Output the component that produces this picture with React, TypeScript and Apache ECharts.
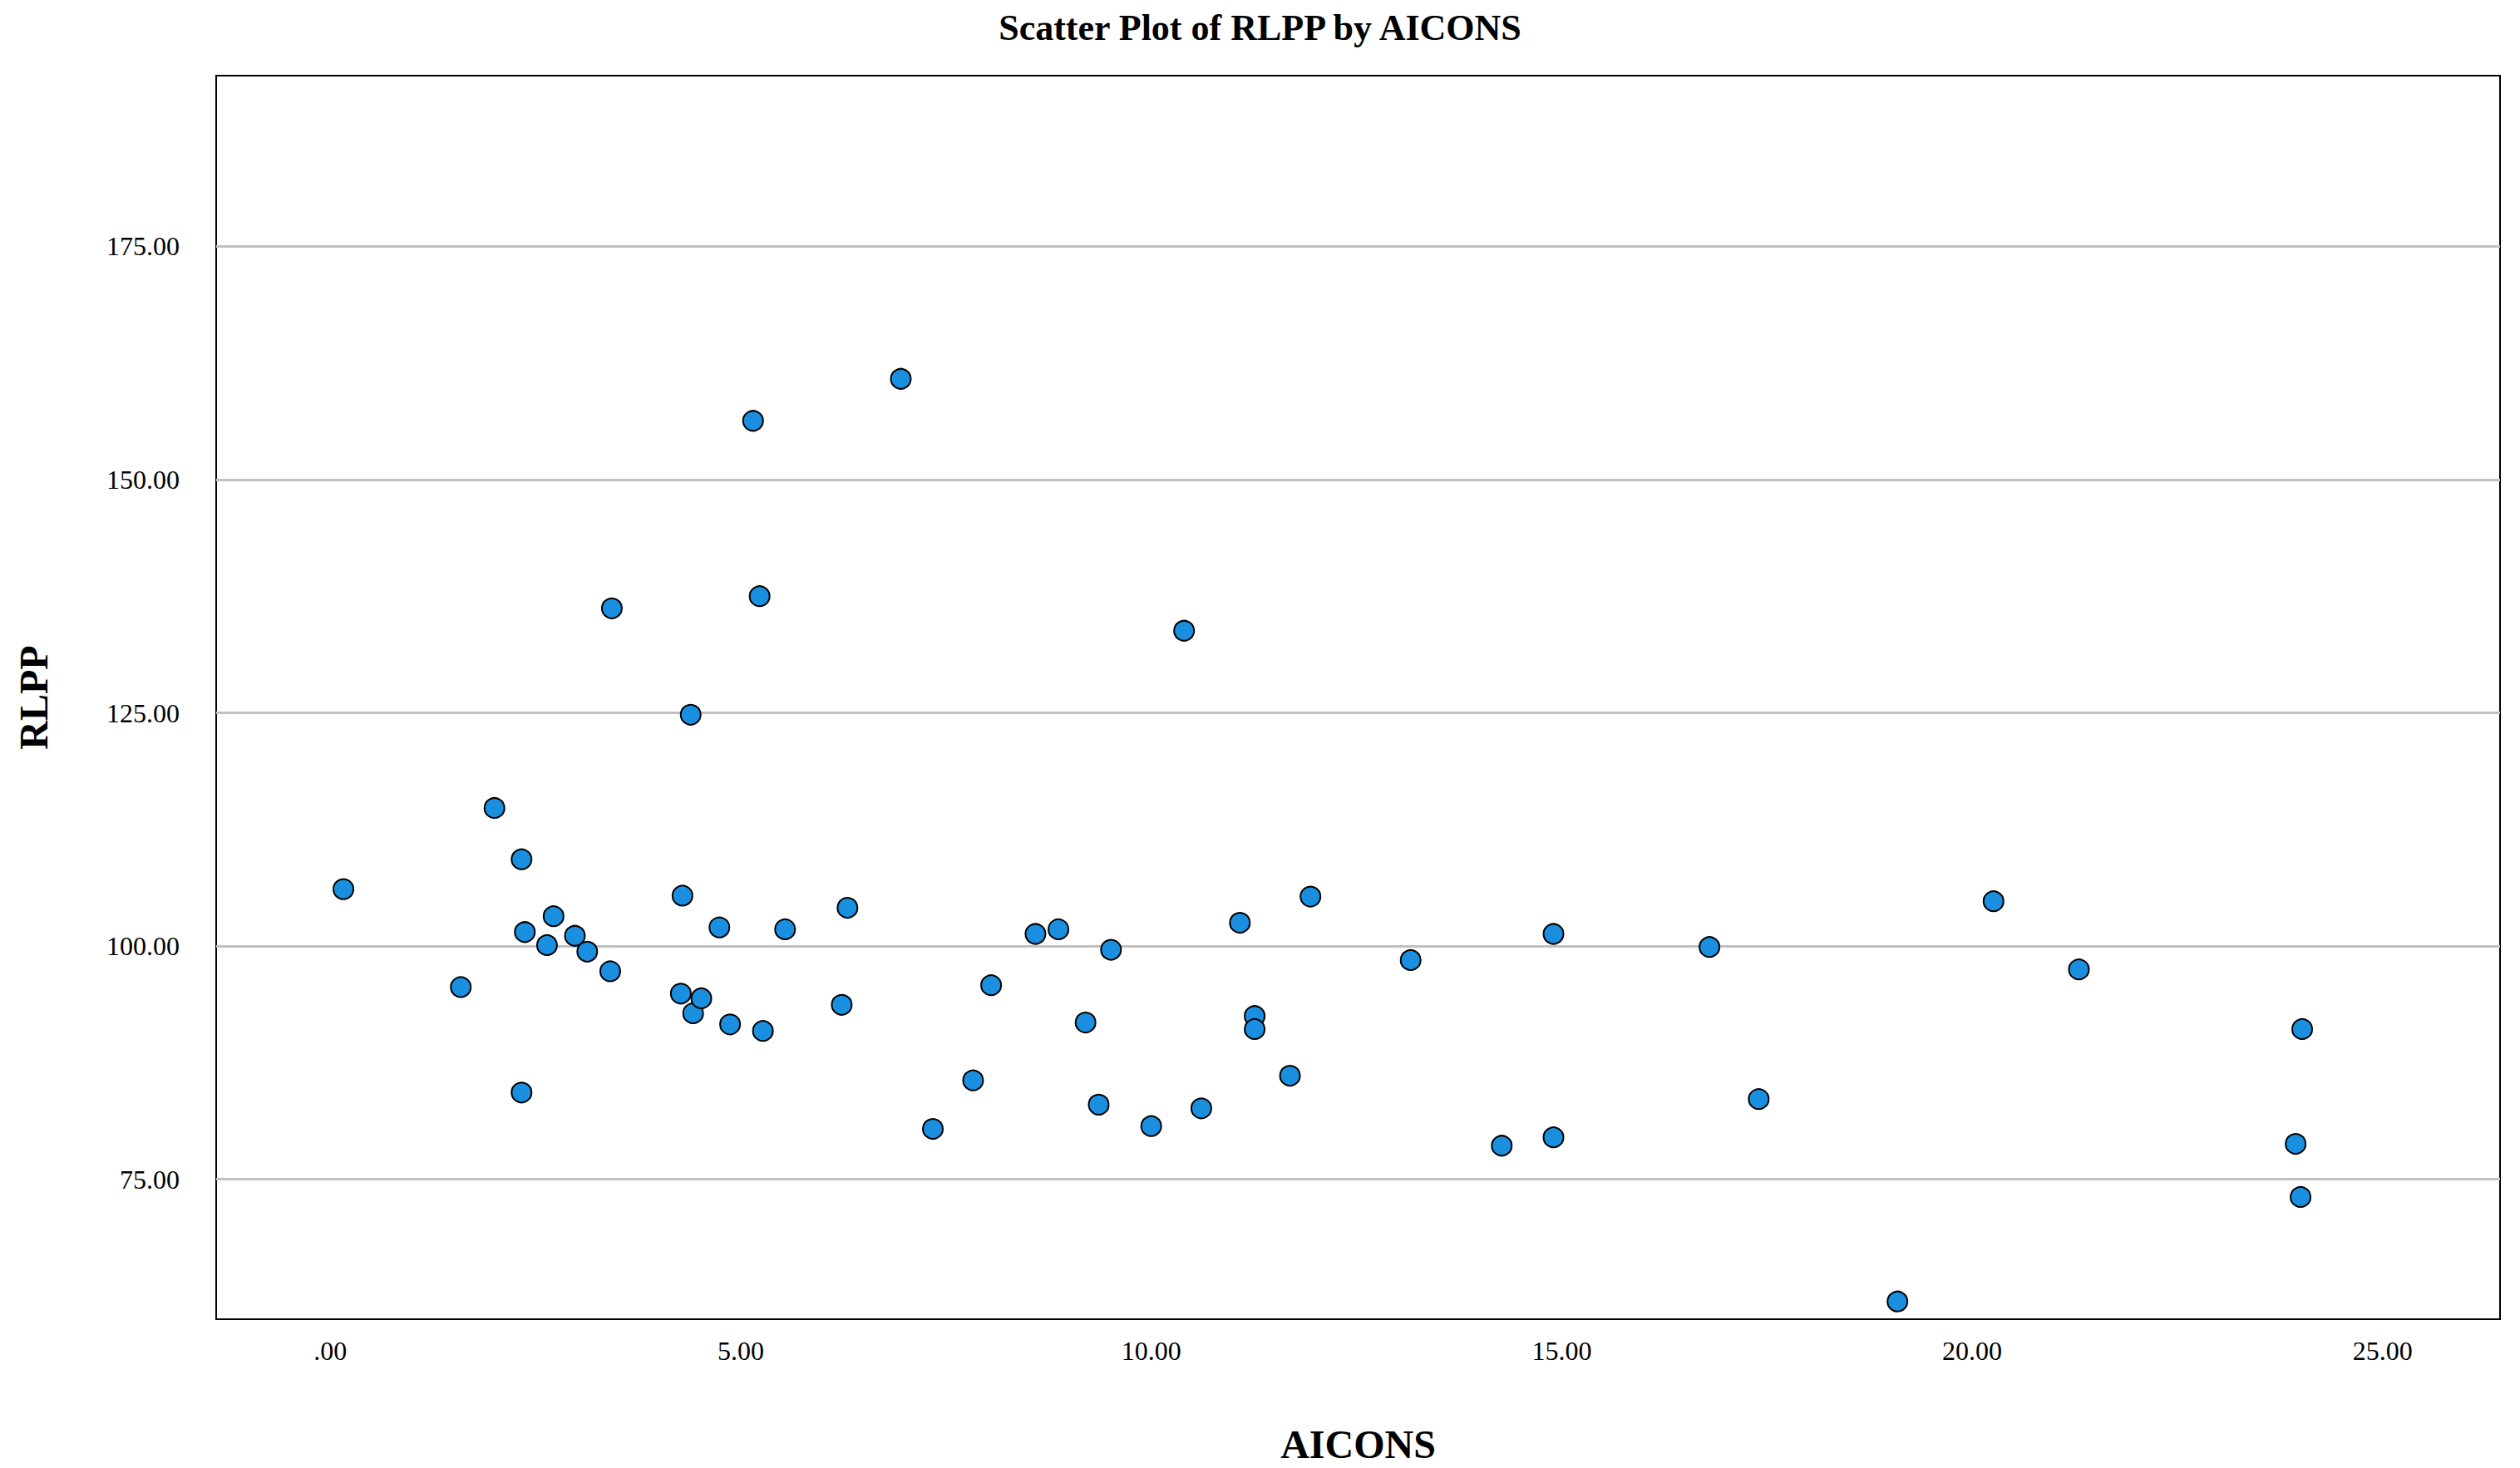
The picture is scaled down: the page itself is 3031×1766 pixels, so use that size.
import { useRef, useEffect } from 'react';
import * as echarts from 'echarts';

const aicons = [
  0.16, 1.59, 2.0, 2.33, 2.37, 2.33, 2.64, 2.72, 2.98, 3.13, 3.41, 3.43, 4.27, 4.29, 4.39, 4.42, 4.52, 4.74,
  4.87, 5.15, 5.23, 5.27, 5.54, 6.23, 6.3, 6.95, 7.34, 7.83, 8.05, 8.59, 8.87, 9.2, 9.36, 9.51, 10.0, 10.4,
  10.61, 11.08, 11.26, 11.26, 11.69, 11.94, 13.16, 14.27, 14.9, 14.9, 16.8, 17.4, 19.09, 20.26, 21.3, 23.94,
  24.02, 24.0,
];
const rlpp = [
  106.1, 95.6, 114.8, 109.3, 101.5, 84.3, 100.1, 103.2, 101.1, 99.4, 97.3, 136.2, 94.9, 105.4, 124.8, 92.8,
  94.4, 102.0, 91.6, 156.3, 137.5, 90.9, 101.8, 93.7, 104.1, 160.8, 80.4, 85.6, 95.8, 101.3, 101.8, 91.8,
  83.0, 99.6, 80.7, 133.8, 82.6, 102.5, 92.5, 91.1, 86.1, 105.3, 98.5, 78.6, 79.5, 101.3, 99.9, 83.6, 61.9,
  104.8, 97.5, 78.8, 91.1, 73.1,
];
const xTicks = [0, 5, 10, 15, 20, 25];
const yTicks = [75, 100, 125, 150, 175];

const font = '"Liberation Serif", "Times New Roman", serif';
const fmt = (v: number) => (v === 0 ? '.00' : v.toFixed(2));

export default function App() {
  const ref = useRef<HTMLDivElement>(null);

  useEffect(() => {
    if (!ref.current) return;
    const chart = echarts.init(ref.current, undefined, { renderer: 'svg' });
    chart.setOption({
      animation: false,
      backgroundColor: '#fff',
      title: {
        text: 'Scatter Plot of RLPP by AICONS',
        left: 'center',
        top: 6,
        textStyle: { fontFamily: font, fontSize: 44, fontWeight: 'bold', color: '#000' },
      },
      grid: {
        left: 260,
        right: 24,
        top: 91,
        bottom: 179,
        show: true,
        borderColor: '#000',
        borderWidth: 2,
        backgroundColor: '#fff',
      },
      xAxis: {
        type: 'value',
        min: -1.39,
        max: 26.43,
        name: 'AICONS',
        nameLocation: 'middle',
        nameGap: 126,
        nameTextStyle: { fontFamily: font, fontSize: 48, fontWeight: 'bold', color: '#000' },
        axisLine: { show: false },
        axisTick: { show: false },
        splitLine: { show: false },
        axisLabel: {
          customValues: xTicks,
          formatter: fmt,
          margin: 22,
          fontFamily: font,
          fontSize: 32,
          color: '#000',
        },
      },
      yAxis: {
        type: 'value',
        min: 60,
        max: 193.3,
        name: 'RLPP',
        nameLocation: 'middle',
        nameGap: 196,
        nameTextStyle: { fontFamily: font, fontSize: 48, fontWeight: 'bold', color: '#000' },
        axisLine: { show: false },
        axisTick: { show: false },
        splitLine: { show: false },
        axisLabel: {
          customValues: yTicks,
          formatter: fmt,
          margin: 44,
          fontFamily: font,
          fontSize: 32,
          color: '#000',
        },
      },
      series: [
        {
          type: 'scatter',
          data: aicons.map((x, i) => [x, rlpp[i]]),
          symbolSize: 24,
          itemStyle: { color: '#1a8fe0', borderColor: '#000', borderWidth: 2, opacity: 1 },
          markLine: {
            silent: true,
            symbol: 'none',
            label: { show: false },
            lineStyle: { color: '#c0c0c0', width: 3, type: 'solid' },
            data: yTicks.map((y) => ({ yAxis: y })),
            z: 1,
          },
        },
      ],
    });
    return () => chart.dispose();
  }, []);

  return <div ref={ref} style={{ position: 'absolute', left: 0, top: 0, width: 3031, height: 1766 }} />;
}
